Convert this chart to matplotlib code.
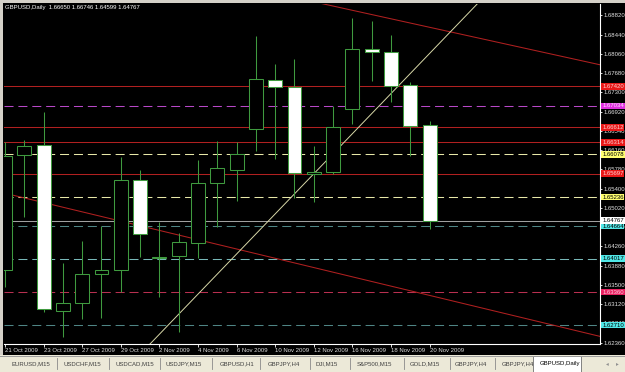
import numpy as np
import matplotlib
matplotlib.use("Agg")
import matplotlib.pyplot as plt
import matplotlib.transforms as mtransforms
from matplotlib.patches import Rectangle

plt.rcParams['font.family'] = ['Liberation Sans', 'DejaVu Sans']
plt.rcParams['lines.scale_dashes'] = False
FS = 4.3

# ---------------- data ----------------
title = "GBPUSD,Daily  1.66650 1.66746 1.64599 1.64767"
dates = ["21 Oct 2009", "22 Oct 2009", "23 Oct 2009", "26 Oct 2009", "27 Oct 2009",
         "28 Oct 2009", "29 Oct 2009", "30 Oct 2009", "2 Nov 2009", "3 Nov 2009",
         "4 Nov 2009", "5 Nov 2009", "6 Nov 2009", "9 Nov 2009", "10 Nov 2009",
         "11 Nov 2009", "12 Nov 2009", "13 Nov 2009", "16 Nov 2009", "17 Nov 2009",
         "18 Nov 2009", "19 Nov 2009", "20 Nov 2009"]
opens = [1.63796, 1.66066, 1.66264, 1.62987, 1.63145, 1.63717, 1.63796, 1.65573, 1.64033,
         1.64073, 1.64329, 1.65514, 1.65770, 1.66579, 1.67547, 1.67409, 1.65691, 1.65731,
         1.66974, 1.68159, 1.68100, 1.67448, 1.66650]
highs = [1.66323, 1.66362, 1.66915, 1.63934, 1.64369, 1.64665, 1.66027, 1.65770, 1.64744,
         1.64527, 1.65967, 1.66343, 1.66323, 1.68415, 1.67863, 1.67961, 1.66244, 1.67034,
         1.68771, 1.68711, 1.68435, 1.67507, 1.66746]
lows = [1.63461, 1.64842, 1.62967, 1.62473, 1.62829, 1.62849, 1.63362, 1.64053, 1.63263,
        1.62572, 1.64033, 1.64645, 1.65158, 1.66145, 1.65987, 1.65217, 1.65139, 1.65691,
        1.66678, 1.67527, 1.67112, 1.66047, 1.64599]
closes = [1.66046, 1.66244, 1.63026, 1.63145, 1.63717, 1.63796, 1.65573, 1.64507, 1.64053,
          1.64349, 1.65514, 1.65810, 1.66086, 1.67567, 1.67409, 1.65711, 1.65731, 1.66619,
          1.68159, 1.68100, 1.67428, 1.66639, 1.64767]

price_ticks = [1.68820, 1.68440, 1.68060, 1.67680, 1.67300, 1.66920, 1.66540, 1.66160,
               1.65780, 1.65400, 1.65020, 1.64640, 1.64260, 1.63880, 1.63500, 1.63120,
               1.62740, 1.62360]

level_prices = [1.67420, 1.67034, 1.66612, 1.66314, 1.66078, 1.65697, 1.65236,
                1.64664, 1.64017, 1.63360, 1.62710]
level_kinds = ["red", "magenta", "red", "red", "yellow", "red", "yellow",
               "teal", "cyan", "crimson", "teal"]

trend_top_x, trend_top_y = [15.0, 31.0], [1.69174, 1.67833]
trend_low_x, trend_low_y = [-1.0, 31.0], [1.65402, 1.62470]
trend_diag_x, trend_diag_y = [7.5, 24.6], [1.62330, 1.69100]

tabs = ["EURUSD,M15", "USDCHF,M15", "USDCAD,M15", "USDJPY,M15", "GBPUSD,H1", "GBPJPY,H4",
        "DJI,M15", "S&P500,M15", "GOLD,M15", "GBPJPY,H4", "GBPJPY,H4", "GBPUSD,Daily"]

# ---------------- styles ----------------
green = '#3f9a3f'
style = {
    "red":     dict(color='#b02020', ls='solid',  bg='#e81818', fg='#ffd0d0'),
    "magenta": dict(color='#b848c8', ls='dashed', bg='#e030e0', fg='#ffe0ff'),
    "yellow":  dict(color='#e8e8a8', ls='dashed', bg='#ffff70', fg='#000000'),
    "teal":    dict(color='#4f8585', ls='dashed', bg='#50e8e8', fg='#000000'),
    "cyan":    dict(color='#78b8b8', ls='dashed', bg='#50e8e8', fg='#000000'),
    "crimson": dict(color='#b83050', ls='dashed', bg='#e82060', fg='#ffd0e0'),
}

W, H = 625, 372
fig = plt.figure(figsize=(W / 100, H / 100), dpi=100)
fig.patch.set_facecolor('#d4d0c8')

# background / window chrome in pixel coordinates
bg = fig.add_axes([0, 0, 1, 1], zorder=0)
bg.set_xlim(0, W)
bg.set_ylim(H, 0)
bg.axis('off')
bg.add_patch(Rectangle((3, 3), W - 3, 352, facecolor='black', edgecolor='none'))
bg.add_patch(Rectangle((0, 355), W, 17, facecolor='#ece9d8', edgecolor='none'))
bg.plot([0, W], [355.5, 355.5], color='#9a9a9a', lw=0.7)
bg.text(5, 7.5, title, color='white', fontsize=FS, va='center', ha='left')

# tab bar
tab_x = [12, 64, 116, 166, 220, 268, 315, 357, 410, 455, 502, 540]
sep_x = [57, 109, 160, 212, 260, 310, 350, 404, 450, 495]
bg.add_patch(Rectangle((533, 355.5), 48, 16, facecolor='white', edgecolor='#707070', lw=0.6))
for tx, name in zip(tab_x, tabs):
    bg.text(tx, 363.5, name, color='#000000' if name == tabs[-1] else '#404040',
            fontsize=FS, va='center', ha='left')
for sx in sep_x:
    bg.plot([sx, sx], [358, 369], color='#8a8a8a', lw=0.6)
bg.text(607, 363.5, '\u25c2', color='#909090', fontsize=4, va='center', ha='center',
        family='DejaVu Sans')
bg.text(617, 363.5, '\u25b8', color='#909090', fontsize=4, va='center', ha='center',
        family='DejaVu Sans')

# ---------------- main chart ----------------
ax = fig.add_axes([4 / W, (H - 344) / H, 596 / W, 340 / H], zorder=1)
ax.set_facecolor('none')
ax.set_xlim(-0.052, 30.83)
ax.set_ylim(1.623353, 1.690470)

# horizontal levels
trans = mtransforms.blended_transform_factory(ax.transAxes, ax.transData)
for p, k in zip(level_prices, level_kinds):
    s = style[k]
    line = ax.axhline(p, color=s['color'], lw=0.75, zorder=2)
    if s['ls'] == 'dashed':
        line.set_dashes((6.5, 3.5))
# bid line
ax.axhline(closes[-1], color='#a0a0a0', lw=0.75, zorder=2)

# trend lines
ax.plot(trend_top_x, trend_top_y, color='#b02020', lw=0.75, zorder=2)
ax.plot(trend_low_x, trend_low_y, color='#b02020', lw=0.75, zorder=2)
ax.plot(trend_diag_x, trend_diag_y, color='#d8d8a8', lw=0.7, zorder=2)

# candles
x = np.arange(len(dates))
o = np.array(opens); c = np.array(closes)
ax.vlines(x, lows, highs, colors=green, lw=0.75, zorder=3)
faces = ['black' if cc >= oo else 'white' for oo, cc in zip(o, c)]
ax.bar(x, np.maximum(np.abs(c - o), 0.00008), bottom=np.minimum(o, c), width=0.72,
       color=faces, edgecolor=green, linewidth=0.75, zorder=4)

# axes styling
for side in ['top', 'left']:
    ax.spines[side].set_visible(False)
for side in ['right', 'bottom']:
    ax.spines[side].set_color('white')
    ax.spines[side].set_linewidth(0.8)
ax.yaxis.tick_right()
ax.set_yticks(price_ticks)
ax.set_yticklabels([f"{t:.5f}" for t in price_ticks])
ax.tick_params(axis='y', colors='white', labelcolor='#e0e0e0', length=1.5, width=0.6,
               pad=1.0, labelsize=FS)
ax.set_xticks(x[::2])
ax.set_xticklabels(dates[::2])
for lab in ax.get_xticklabels():
    lab.set_ha('left')
ax.tick_params(axis='x', colors='white', labelcolor='#e0e0e0', length=2.2, width=0.6,
               pad=1.0, labelsize=FS)

# price labels for levels
for p, k in zip(level_prices, level_kinds):
    s = style[k]
    ax.text(1.0035, p, f"{p:.5f}", transform=trans, fontsize=FS, color=s['fg'],
            va='center', ha='left', zorder=6, clip_on=False,
            bbox=dict(boxstyle='square,pad=0.15', fc=s['bg'], ec='none'))
ax.text(1.0035, closes[-1], f"{closes[-1]:.5f}", transform=trans, fontsize=FS,
        color='black', va='center', ha='left', zorder=6, clip_on=False,
        bbox=dict(boxstyle='square,pad=0.15', fc='white', ec='none'))

fig.savefig('out.png', dpi=100, facecolor=fig.get_facecolor())
